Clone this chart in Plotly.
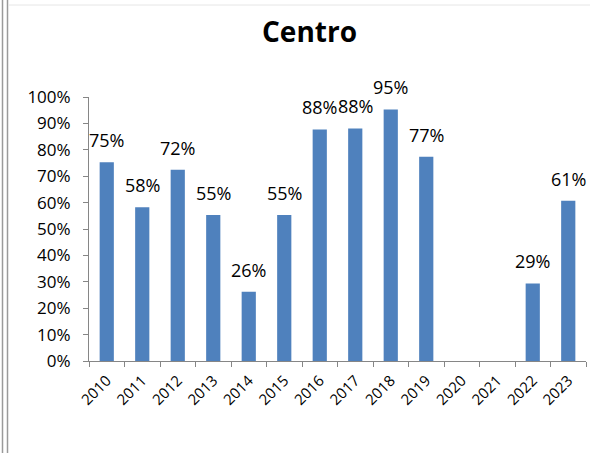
import plotly.graph_objects as go

years = ["2010", "2011", "2012", "2013", "2014", "2015", "2016",
         "2017", "2018", "2019", "2020", "2021", "2022", "2023"]
values = [0.753, 0.582, 0.724, 0.553, 0.262, 0.553, 0.877,
          0.881, 0.953, 0.774, None, None, 0.294, 0.607]
y_ticks = [i / 10 for i in range(11)]
y_tick_labels = [f"{i * 10}%" for i in range(11)]

FONT = "Open Sans"
BAR = "#4F81BD"
AXIS = "#868686"

fig = go.Figure()
fig.add_trace(go.Bar(x=years, y=values, marker=dict(color=BAR, line=dict(width=0)),
                     hoverinfo="x+y"))

annotations = []
for i, v in enumerate(values):
    if v is None:
        continue
    annotations.append(dict(x=i, y=v, xref="x", yref="y", text=f"{round(v * 100)}%",
                            showarrow=False, yanchor="bottom", yshift=8,
                            font=dict(family=FONT, size=18, color="#000000")))

# outer frame lines (chart container border)
def px_x(px):
    return (px - 89) / 497

def px_y(py):
    return (361 - py) / 264

shapes = [
    dict(type="line", xref="paper", yref="paper", x0=px_x(2.5), x1=px_x(2.5),
         y0=px_y(0), y1=px_y(453), line=dict(color="#9a9a9a", width=1.5)),
    dict(type="line", xref="paper", yref="paper", x0=px_x(7.5), x1=px_x(7.5),
         y0=px_y(0), y1=px_y(453), line=dict(color="#9a9a9a", width=1.5)),
    dict(type="line", xref="paper", yref="paper", x0=px_x(8), x1=px_x(592),
         y0=px_y(5), y1=px_y(5), line=dict(color="#e6e6e6", width=1)),
]

fig.update_layout(
    width=590, height=453,
    margin=dict(l=89, r=4, t=97, b=92, pad=0, autoexpand=False),
    paper_bgcolor="white", plot_bgcolor="white",
    bargap=0.6,
    showlegend=False,
    title=dict(text="<b>Centro</b>", x=309.5 / 590, xanchor="center",
               y=1 - 32 / 453, yanchor="middle", xref="container", yref="container",
               font=dict(family=FONT, size=28, color="#000000")),
    annotations=annotations,
    shapes=shapes,
    xaxis=dict(type="category", categoryorder="array", categoryarray=years,
               range=[-0.5, len(years) - 0.5], autorange=False, automargin=False,
               showline=True, linecolor=AXIS, linewidth=1,
               ticks="outside", tickson="boundaries", ticklen=5, tickcolor=AXIS,
               tickangle=-45, showgrid=False, zeroline=False, ticklabelstandoff=4,
               tickfont=dict(family=FONT, size=15, color="#000000")),
    yaxis=dict(range=[0, 1], autorange=False, automargin=False,
               tickvals=y_ticks, ticktext=y_tick_labels,
               showline=True, linecolor=AXIS, linewidth=1,
               ticks="outside", ticklen=5, tickcolor=AXIS,
               showgrid=False, zeroline=False, ticklabelstandoff=9,
               tickfont=dict(family=FONT, size=17, color="#000000")),
    font=dict(family=FONT),
)

fig.write_html("out.html", config={"displayModeBar": False},
               post_script="document.body.style.margin='0';document.body.style.overflow='hidden';")
